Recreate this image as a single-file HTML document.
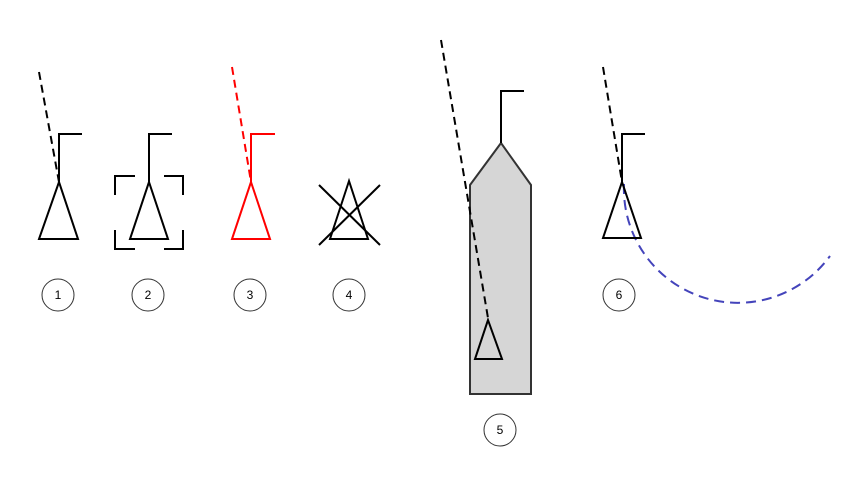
<!DOCTYPE html>
<html><head><style>body{margin:0;background:#fff}svg{display:block}</style></head><body>
<svg width="868" height="485" viewBox="0 0 868 485" xmlns="http://www.w3.org/2000/svg" font-family="Liberation Sans, sans-serif">
<g fill="none" stroke-width="2">
<!-- 1 -->
<g stroke="#000">
<line x1="39" y1="72" x2="59" y2="182" stroke-dasharray="8,5"/>
<polyline points="82,134 59,134 59,182"/>
<polygon points="59,182 39,239 78,239"/>
</g>
<!-- 2 -->
<g stroke="#000">
<polyline points="172,134 149,134 149,182"/>
<polygon points="149,182 130,239 168,239"/>
<polyline points="135,176 115,176 115,195"/>
<polyline points="164,176 183,176 183,195"/>
<polyline points="115,230 115,249 135,249"/>
<polyline points="183,230 183,249 164,249"/>
</g>
<!-- 3 -->
<g stroke="#f00">
<line x1="232" y1="67" x2="251" y2="182" stroke-dasharray="8,5"/>
<polyline points="275,134 251,134 251,182"/>
<polygon points="251,182 232,239 270,239"/>
</g>
<!-- 4 -->
<g stroke="#000">
<polygon points="349,181 330,239 368,239"/>
<line x1="319" y1="185" x2="380" y2="245"/>
<line x1="319" y1="245" x2="380" y2="185"/>
</g>
<!-- 5 -->
<polygon points="470,185 501,143 531,185 531,394 470,394" fill="#d6d6d6" stroke="#333"/>
<g stroke="#000">
<polyline points="524,91 501,91 501,143"/>
<line x1="441" y1="40" x2="488" y2="318" stroke-dasharray="8,5"/>
<polygon points="488,320 475,359 502,359"/>
</g>
<!-- 6 -->
<path d="M624 184 A114 114 0 0 0 830 256" stroke="#4444bb" stroke-dasharray="10,6"/>
<g stroke="#000">
<line x1="603" y1="67" x2="622" y2="182" stroke-dasharray="8,5"/>
<polyline points="645,134 622,134 622,182"/>
<polygon points="622,182 603,238 641,238"/>
</g>
</g>
<g fill="#fff" stroke="#333" stroke-width="1">
<circle cx="58" cy="295" r="16"/>
<circle cx="148" cy="295" r="16"/>
<circle cx="250" cy="295" r="16"/>
<circle cx="349" cy="295" r="16"/>
<circle cx="500" cy="430" r="16"/>
<circle cx="619" cy="295" r="16"/>
</g>
<g font-size="12" text-anchor="middle" fill="#000">
<text x="58" y="299">1</text>
<text x="148" y="299">2</text>
<text x="250" y="299">3</text>
<text x="349" y="299">4</text>
<text x="500" y="434">5</text>
<text x="619" y="299">6</text>
</g>
</svg>
</body></html>
